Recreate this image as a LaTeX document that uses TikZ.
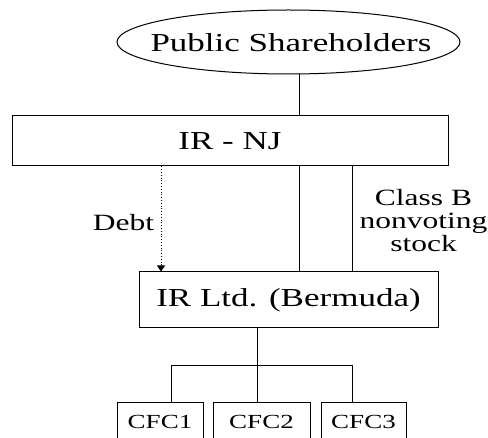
\documentclass[tikz,border=0pt]{standalone}
\usepackage{fontspec}
\setmainfont{Liberation Serif}
\usetikzlibrary{shapes.geometric,arrows.meta}
\newcommand{\sqz}[1]{\scalebox{1}[0.74]{#1}}
\begin{document}
\begin{tikzpicture}[x=1pt,y=-1pt,line width=1pt,
  box/.style={draw, rectangle, inner sep=0pt},
  big/.style={font=\fontsize{35}{35}\selectfont},
  lab/.style={font=\fontsize{31.5}{31.5}\selectfont, inner sep=0pt, align=center},
  small/.style={font=\fontsize{27}{27}\selectfont}]
\clip (0,0) rectangle (488,438);
\fill[white] (0,0) rectangle (488,438);
% nodes
\node[draw, ellipse, inner sep=0pt, minimum width=343pt, minimum height=64pt] (ps) at (288.5,42) {};
\node[big] (pst) at (291,42.5) {\sqz{Public Shareholders}};
\node[box, minimum width=436pt, minimum height=50pt, big] (nj) at (230,141) {\sqz{IR - NJ}};
\node[box, minimum width=299pt, minimum height=56pt, big] (irl) at (288.5,300) {\sqz{IR Ltd. (Bermuda)}};
\node[box, minimum width=86pt, minimum height=57pt, small] (c1) at (160,431.5) {};
\node[box, minimum width=97pt, minimum height=57pt, small] (c2) at (261.5,431.5) {};
\node[box, minimum width=85pt, minimum height=57pt, small] (c3) at (363.5,431.5) {};
\node[small] (c1t) at (160,421.5) {\sqz{CFC1}};
\node[small] (c2t) at (261.5,421.5) {\sqz{CFC2}};
\node[small] (c3t) at (363.5,421.5) {\sqz{CFC3}};
\node[lab] (debt) at (123.5,223) {\sqz{Debt}};
\node[lab] (cls) at (423.5,224) {\sqz{\begin{tabular}{@{}c@{}}Class B\\nonvoting\\stock\end{tabular}}};
% coordinates for connector columns
\coordinate (xa) at (299,0);
\coordinate (xb) at (352,0);
\coordinate (xd) at (161,0);
\coordinate (xm) at (257,0);
\coordinate (xl) at (171,0);
\coordinate (bar) at (0,366);
% connectors
\draw (xa |- ps.south) -- (xa |- nj.north);
\draw (xa |- nj.south) -- (xa |- irl.north);
\draw (xb |- nj.south) -- (xb |- irl.north);
\draw[line width=0.8pt, dotted, -{Triangle[length=6pt,width=8pt]}] (xd |- nj.south) -- (xd |- irl.north);
\draw (xm |- irl.south) -- (xm |- c2.north);
\draw (xl |- c1.north) -- (xl |- bar) -- (xb |- bar) -- (xb |- c3.north);
\end{tikzpicture}
\end{document}
